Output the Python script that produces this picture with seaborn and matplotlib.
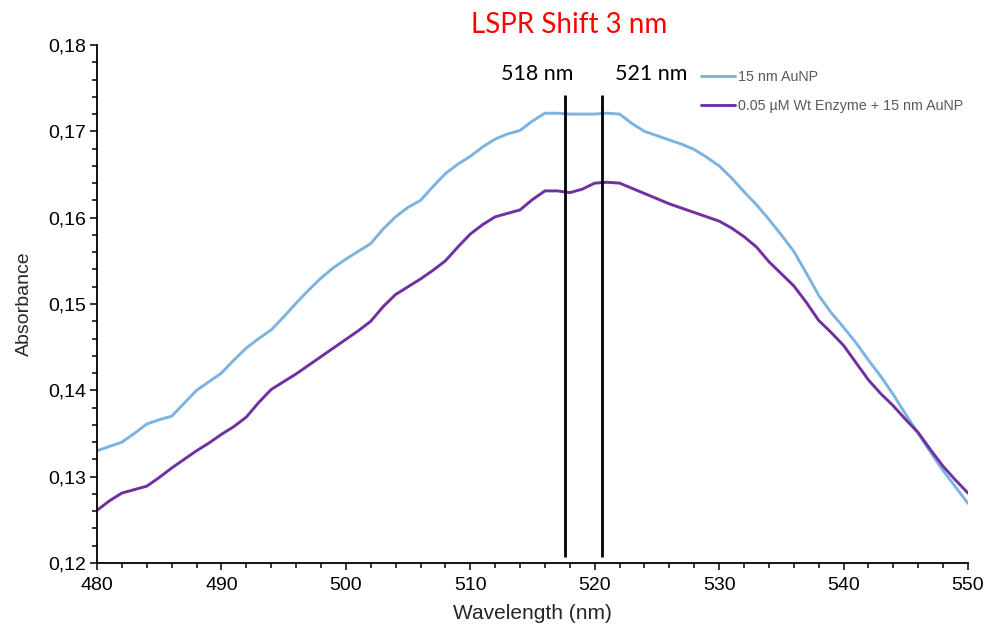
import numpy as np
import pandas as pd
import matplotlib
matplotlib.use("Agg")
import matplotlib.pyplot as plt
from matplotlib.ticker import MultipleLocator, FuncFormatter
import seaborn as sns

wavelength = list(range(480, 551))
aunp = [0.1330, 0.1335, 0.1340, 0.1350, 0.1361, 0.1366, 0.1370, 0.1385, 0.1400, 0.1410,
        0.1420, 0.1435, 0.1449, 0.1460, 0.1470, 0.1485, 0.1501, 0.1516, 0.1530, 0.1542,
        0.1552, 0.1561, 0.1570, 0.1587, 0.1601, 0.1612, 0.1620, 0.1636, 0.1651, 0.1662,
        0.1671, 0.1682, 0.1691, 0.1697, 0.1701, 0.1712, 0.1721, 0.1721, 0.1720, 0.1720,
        0.1720, 0.1721, 0.1720, 0.1709, 0.1700, 0.1695, 0.1690, 0.1685, 0.1679, 0.1670,
        0.1660, 0.1646, 0.1630, 0.1615, 0.1598, 0.1580, 0.1561, 0.1536, 0.1510, 0.1490,
        0.1473, 0.1455, 0.1435, 0.1416, 0.1395, 0.1372, 0.1350, 0.1328, 0.1307, 0.1288,
        0.1269]
enzyme_aunp = [0.1261, 0.1272, 0.1281, 0.1285, 0.1289, 0.1299, 0.1310, 0.1320, 0.1330, 0.1339,
               0.1349, 0.1358, 0.1369, 0.1386, 0.1401, 0.1410, 0.1419, 0.1429, 0.1439, 0.1449,
               0.1459, 0.1469, 0.1480, 0.1497, 0.1511, 0.1520, 0.1529, 0.1539, 0.1550, 0.1566,
               0.1581, 0.1592, 0.1601, 0.1605, 0.1609, 0.1621, 0.1631, 0.1631, 0.1629, 0.1633,
               0.1640, 0.1641, 0.1640, 0.1634, 0.1628, 0.1622, 0.1616, 0.1611, 0.1606, 0.1601,
               0.1596, 0.1588, 0.1578, 0.1566, 0.1549, 0.1535, 0.1521, 0.1502, 0.1481, 0.1467,
               0.1452, 0.1432, 0.1412, 0.1396, 0.1382, 0.1366, 0.1351, 0.1331, 0.1312, 0.1296,
               0.1281]
series_names = ["15 nm AuNP", "0.05 \u00b5M Wt Enzyme + 15 nm AuNP"]
peak_positions = [517.6, 520.6]
peak_labels = ["518 nm", "521 nm"]
title_text = "LSPR Shift 3 nm"

sns.set_style("ticks")
plt.rcParams["font.family"] = ["Liberation Sans", "DejaVu Sans"]

df = pd.DataFrame({
    "Wavelength": wavelength * 2,
    "Absorbance": aunp + enzyme_aunp,
    "Series": [series_names[0]] * len(wavelength) + [series_names[1]] * len(wavelength),
})

fig = plt.figure(figsize=(9.9, 6.35), dpi=100)
ax = fig.add_axes([97 / 990, 1 - 563 / 635, (968 - 97) / 990, (563 - 45) / 635])

palette = {series_names[0]: "#7DB3E0", series_names[1]: "#7030A0"}
sns.lineplot(data=df, x="Wavelength", y="Absorbance", hue="Series", palette=palette,
             linewidth=2.1, ax=ax, sort=False)
for ln in ax.get_lines():
    ln.set_solid_joinstyle("round")
    ln.set_solid_capstyle("round")

ax.set_xlim(480, 550)
ax.set_ylim(0.12, 0.18)
ax.xaxis.set_major_locator(MultipleLocator(10))
ax.xaxis.set_minor_locator(MultipleLocator(2))
ax.yaxis.set_major_locator(MultipleLocator(0.01))
ax.yaxis.set_minor_locator(MultipleLocator(0.002))
ax.yaxis.set_major_formatter(FuncFormatter(lambda v, p: f"{v:.2f}".replace(".", ",")))

ax.tick_params(axis="both", which="major", length=5, width=1.1, color="black",
               labelsize=14, labelcolor="black", direction="out")
ax.tick_params(axis="both", which="minor", length=3.5, width=1.1, color="black", direction="out")
ax.tick_params(axis="x", which="major", pad=5)
ax.tick_params(axis="y", which="major", pad=3)

for s in ["top", "right"]:
    ax.spines[s].set_visible(False)
for s in ["left", "bottom"]:
    ax.spines[s].set_color("black")
    ax.spines[s].set_linewidth(1.3)

ax.set_xlabel("Wavelength (nm)", fontsize=15, labelpad=7)
ax.set_ylabel("Absorbance", fontsize=14, labelpad=11)

ax.vlines(peak_positions, 0.1207, 0.1742, colors="black", linewidth=2.0)
label_x = [515.4, 524.5]
for xp, lab in zip(label_x, peak_labels):
    ax.text(xp, 0.1766, lab, ha="center", va="center", fontsize=15.5,
            family=["Lato", "DejaVu Sans"], color="black")

fig.text(569 / 990, 1 - 25 / 635, title_text, ha="center", va="center", fontsize=20,
         family=["Lato", "DejaVu Sans"], color="#FF0000")

leg = ax.legend(loc="upper left", bbox_to_anchor=(0.687, 0.962), frameon=False,
                fontsize=10.3, handlelength=2.4, handletextpad=0.2, labelspacing=1.0,
                borderaxespad=0)
for t in leg.get_texts():
    t.set_color("#595959")

fig.savefig("out.png", dpi=100)
